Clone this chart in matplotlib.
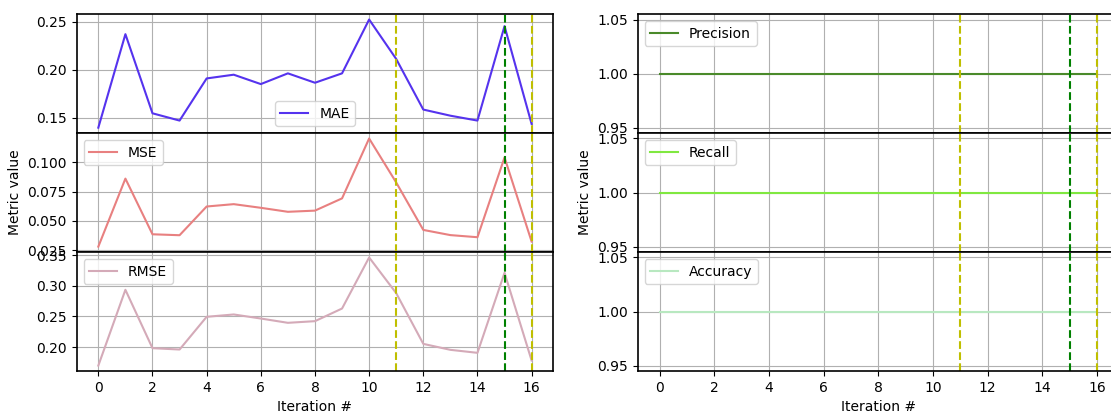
import numpy as np
import matplotlib
matplotlib.use("Agg")
import matplotlib.pyplot as plt
from matplotlib.ticker import MultipleLocator

iters = np.arange(17)

mae = [0.1395, 0.2371, 0.1545, 0.1469, 0.1909, 0.1948, 0.1850, 0.1962, 0.1864,
       0.1962, 0.2524, 0.2112, 0.1584, 0.1520, 0.1469, 0.2455, 0.1434]
mse = [0.0282, 0.0860, 0.0387, 0.0379, 0.0623, 0.0643, 0.0612, 0.0578, 0.0588,
       0.0692, 0.1201, 0.0827, 0.0424, 0.0380, 0.0362, 0.1040, 0.0325]
rmse = [0.1700, 0.2935, 0.1984, 0.1962, 0.2495, 0.2533, 0.2467, 0.2397, 0.2424,
        0.2630, 0.3462, 0.2880, 0.2054, 0.1957, 0.1908, 0.3212, 0.1783]
precision = [1.0] * 17
recall = [1.0] * 17
accuracy = [1.0] * 17

yellow_marks = [11, 16]
green_marks = [15]

left_series = [("MAE", mae, "#5533ee"), ("MSE", mse, "#e88080"), ("RMSE", rmse, "#d4aab8")]
right_series = [("Precision", precision, "#4a8a2a"), ("Recall", recall, "#80e840"),
                ("Accuracy", accuracy, "#b8e8c0")]

fig = plt.figure(figsize=(11.11, 4.15), dpi=100)


def draw_column(series, left, right):
    gs = fig.add_gridspec(3, 1, left=left, right=right, top=0.966, bottom=0.106, hspace=0)
    axes = []
    for i, (name, vals, col) in enumerate(series):
        ax = fig.add_subplot(gs[i], sharex=axes[0] if axes else None)
        ax.plot(iters, vals, color=col, lw=1.5, label=name)
        for x in yellow_marks:
            ax.axvline(x, color="y", ls="--", lw=1.5)
        for x in green_marks:
            ax.axvline(x, color="g", ls="--", lw=1.5)
        ax.grid(True)
        ax.legend(loc="best")
        if i < 2:
            ax.tick_params(labelbottom=False)
        for s in ax.spines.values():
            s.set_linewidth(1.2)
        axes.append(ax)
    axes[1].set_ylabel("Metric value")
    axes[2].set_xlabel("Iteration #")
    axes[2].set_xticks(range(0, 17, 2))
    return axes


lax = draw_column(left_series, 0.069, 0.498)
lax[1].yaxis.set_major_locator(MultipleLocator(0.025))
rax = draw_column(right_series, 0.574, 1.007)

fig.savefig("out.png", dpi=100)
